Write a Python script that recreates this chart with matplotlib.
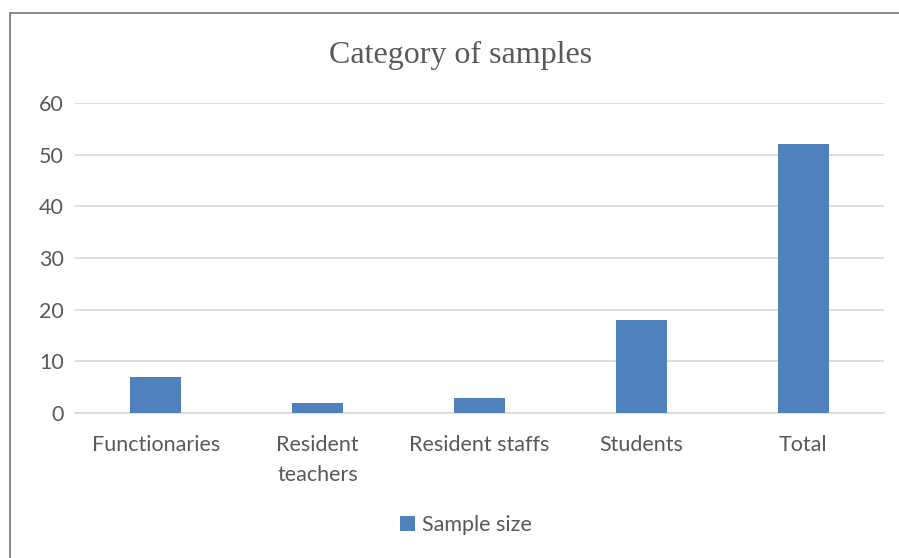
import matplotlib
matplotlib.use("Agg")
import matplotlib.pyplot as plt
from matplotlib.patches import Rectangle

categories = ["Functionaries", "Resident\nteachers", "Resident staffs", "Students", "Total"]
sample_size = [7, 2, 3, 18, 52]
y_ticks = [0, 10, 20, 30, 40, 50, 60]

W, H = 899, 558
fig = plt.figure(figsize=(W / 100, H / 100), dpi=100)
fig.patch.set_facecolor("white")

# outer chart frame
fig.add_artist(Rectangle((10 / W, -0.1), 1.2, (H - 13) / H + 0.1,
                         transform=fig.transFigure, fill=False,
                         edgecolor="#7f7f7f", linewidth=1.3))

left, right = 75 / W, 884 / W
bottom, top = 1 - 413 / H, 1 - 103 / H
ax = fig.add_axes([left, bottom, right - left, top - bottom])

text_color = "#595959"
font = "Lato"
fs = 15.5
x = range(len(categories))
ax.bar(x, sample_size, width=0.315, color="#4f81bd", label="Sample size", zorder=3)

ax.set_xlim(-0.5, len(categories) - 0.5)
ax.set_ylim(0, 60)
ax.set_yticks(y_ticks)
ax.set_yticklabels([str(t) for t in y_ticks], fontsize=fs, color=text_color, family=font)
ax.set_xticks(list(x))
ax.set_xticklabels(categories, fontsize=fs, color=text_color, family=font, linespacing=1.6)
ax.tick_params(axis="both", length=0)
ax.tick_params(axis="x", pad=16)
ax.tick_params(axis="y", pad=8)

ax.grid(axis="y", color="#d9d9d9", linewidth=1.2, zorder=0)
for s in ["top", "right", "left"]:
    ax.spines[s].set_visible(False)
ax.spines["bottom"].set_color("#d9d9d9")
ax.spines["bottom"].set_linewidth(1.2)

fig.text(461 / W, 1 - 55 / H, "Category of samples", ha="center", va="center",
         fontsize=23, color=text_color, family="Liberation Serif")

fig.legend(loc="center", bbox_to_anchor=(466 / W, 1 - 525 / H), frameon=False,
           prop={"family": font, "size": fs}, labelcolor=text_color,
           handlelength=0.7, handleheight=0.7, handletextpad=0.35)

fig.savefig("out.png", dpi=100, facecolor="white")
